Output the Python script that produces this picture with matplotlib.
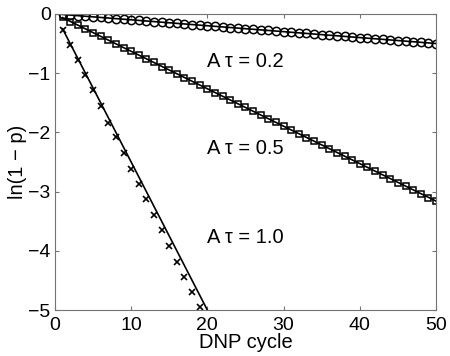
import numpy as np
import matplotlib
matplotlib.use("Agg")
import matplotlib.pyplot as plt

plt.rcParams.update({"font.family": ["Liberation Sans", "DejaVu Sans"], "font.size": 14.5})

# DNP cycle numbers
cycles = list(range(1, 51))
cycles_x = list(range(1, 20))

# ln(1-p)
circ_y = [-0.01, -0.02, -0.03, -0.04, -0.05, -0.06, -0.07, -0.08, -0.09, -0.10,
          -0.11, -0.12, -0.13, -0.14, -0.15, -0.16, -0.17, -0.18, -0.19, -0.20,
          -0.21, -0.22, -0.23, -0.24, -0.25, -0.26, -0.27, -0.28, -0.29, -0.30,
          -0.31, -0.32, -0.33, -0.34, -0.35, -0.36, -0.37, -0.38, -0.39, -0.40,
          -0.41, -0.42, -0.43, -0.44, -0.45, -0.46, -0.47, -0.48, -0.49, -0.50]
sq_y = [-0.06, -0.13, -0.19, -0.25, -0.32, -0.38, -0.44, -0.51, -0.57, -0.63,
        -0.70, -0.76, -0.82, -0.89, -0.95, -1.01, -1.08, -1.14, -1.20, -1.27,
        -1.33, -1.39, -1.45, -1.52, -1.58, -1.64, -1.71, -1.77, -1.83, -1.90,
        -1.96, -2.02, -2.09, -2.15, -2.21, -2.28, -2.34, -2.40, -2.47, -2.53,
        -2.59, -2.66, -2.72, -2.78, -2.85, -2.91, -2.97, -3.04, -3.10, -3.16]
x_y = [-0.27, -0.52, -0.78, -1.03, -1.28, -1.55, -1.84, -2.08, -2.35, -2.62,
       -2.87, -3.13, -3.40, -3.65, -3.92, -4.18, -4.44, -4.70, -4.95]

# fitted straight lines (end points)
circ_fit_x, circ_fit_y = [1, 50], [-0.01, -0.50]
sq_fit_x, sq_fit_y = [1, 50], [-0.063, -3.16]
x_fit_x, x_fit_y = [1, 20], [-0.25, -5.0]

labels = ["A \u03c4 = 0.2", "A \u03c4 = 0.5", "A \u03c4 = 1.0"]
label_pos = [(20, -0.80), (20, -2.28), (20, -3.78)]

fig = plt.figure(figsize=(4.5, 3.56), dpi=100)
ax = fig.add_axes([0.122, 0.129, 0.847, 0.832])

ax.plot(circ_fit_x, circ_fit_y, color="k", lw=1.2)
ax.plot(sq_fit_x, sq_fit_y, color="k", lw=1.2)
ax.plot(x_fit_x, x_fit_y, color="k", lw=1.2)
ax.plot(cycles, circ_y, "o", mfc="none", mec="k", ms=6, mew=1.1)
ax.plot(cycles, sq_y, "s", mfc="none", mec="k", ms=5, mew=1.1)
ax.plot(cycles_x, x_y, "x", color="k", ms=4.5, mew=1.2)

for txt, (tx, ty) in zip(labels, label_pos):
    ax.text(tx, ty, txt, ha="left", va="center", fontsize=14.5)

ax.set_xlim(0, 50)
ax.set_ylim(-5, 0)
ax.set_xticks([0, 10, 20, 30, 40, 50])
ax.set_yticks([0, -1, -2, -3, -4, -5])
ax.set_yticklabels(["0", "\u22121", "\u22122", "\u22123", "\u22124", "\u22125"])
ax.tick_params(direction="in", top=True, right=True, length=3, color="0.45",
               labelsize=14)
ax.tick_params(axis="x", pad=5)
ax.tick_params(axis="y", pad=3)
for s in ax.spines.values():
    s.set_color("0.45")
ax.set_xlabel("DNP cycle", labelpad=-1)
ax.set_ylabel("ln(1 \u2212 p)", labelpad=1)

fig.savefig("out.png", dpi=100)
